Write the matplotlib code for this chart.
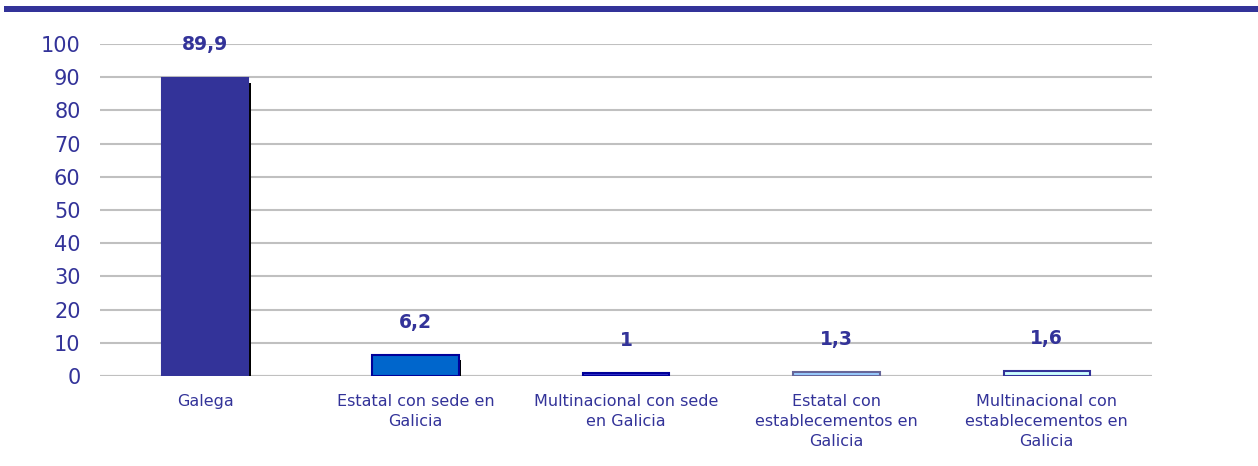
import numpy as np
import matplotlib.pyplot as plt
from matplotlib.patches import Rectangle

# data
categories = ['Galega', 'Estatal con sede en\nGalicia', 'Multinacional con sede\nen Galicia',
              'Estatal con\nestablecementos en\nGalicia', 'Multinacional con\nestablecementos en\nGalicia']
values = [89.9, 6.2, 1.0, 1.3, 1.6]
value_labels = ['89,9', '6,2', '1', '1,3', '1,6']
yticks = [0, 10, 20, 30, 40, 50, 60, 70, 80, 90, 100]

face_colors = ['#333399', '#0066CC', '#3333CC', '#99CCFF', '#CCFFFF']
edge_colors = ['#333399', '#000099', '#000099', '#666699', '#333399']
txt = '#333399'

fig = plt.figure(figsize=(12.58, 4.66), dpi=100)
ax = fig.add_axes([100/1258, 1-376/466, 1052/1258, 332/466])

# top band
fig.add_artist(Rectangle((4/1258, 1-12/466), 1, 6/466, transform=fig.transFigure,
                         color='#333399', lw=0))

x = np.arange(len(values))
w = 0.41
# shadow (only visible on the taller bars)
for i, v in enumerate(values):
    if v > 3:
        ax.bar(x[i] + 0.012, v - 1.5, width=w, color='black', zorder=2)
ax.bar(x, values, width=w, color=face_colors, edgecolor=edge_colors, linewidth=1.5, zorder=3)

for i, v in enumerate(values):
    ax.text(x[i], v + 9.8, value_labels[i], ha='center', va='center', color=txt,
            fontsize=13.5, fontweight='bold')

ax.set_xlim(-0.5, len(values) - 0.5)
ax.set_ylim(0, 100)
ax.set_yticks(yticks)
ax.yaxis.grid(True, color='#c0c0c0', lw=1.5, zorder=0)
ax.set_axisbelow(True)
for s in ax.spines.values():
    s.set_visible(False)
ax.tick_params(axis='y', length=0, labelsize=15, labelcolor=txt, pad=14)
ax.tick_params(axis='x', length=0, labelsize=11.5, labelcolor=txt, pad=13)
ax.set_xticks(x)
ax.set_xticklabels(categories, linespacing=1.4)
ax.axhline(0, color='#c0c0c0', lw=1.5, zorder=1)

fig.savefig('out.png', dpi=100)
